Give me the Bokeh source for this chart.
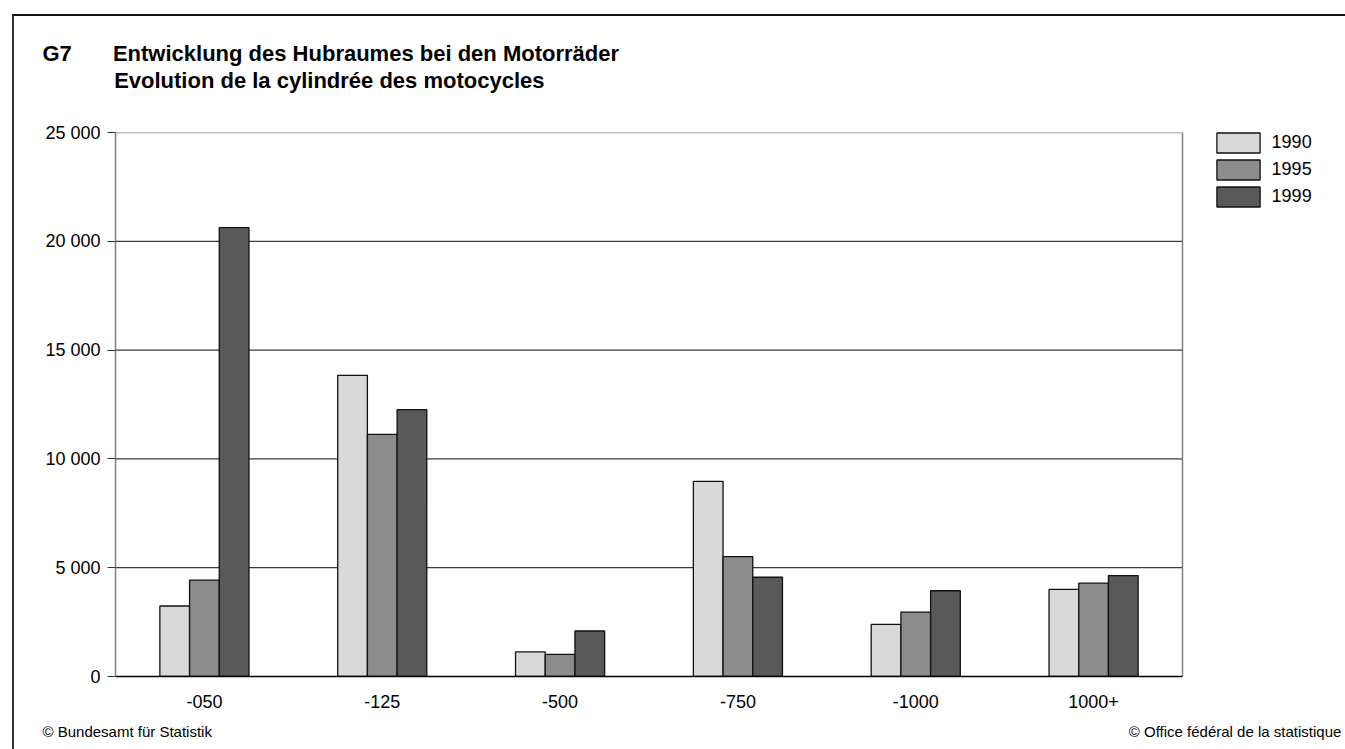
from bokeh.plotting import figure
from bokeh.models import (ColumnDataSource, Range1d, FixedTicker, Legend, LegendItem,
                          Title, Column)
from bokeh.embed import file_html
from bokeh.resources import INLINE

# ---- data ----
categories = ["-050", "-125", "-500", "-750", "-1000", "1000+"]
years = ["1990", "1995", "1999"]
v1990 = [3240, 13840, 1130, 8970, 2400, 4000]
v1995 = [4430, 11130, 1020, 5510, 2960, 4290]
v1999 = [20630, 12260, 2090, 4560, 3940, 4640]
y_ticks = [0, 5000, 10000, 15000, 20000, 25000]
colors = ["#d9d9d9", "#8c8c8c", "#595959"]

title_code = "G7"
title_de = "Entwicklung des Hubraumes bei den Motorräder"
title_fr = "Evolution de la cylindrée des motocycles"
footer_left = "© Bundesamt für Statistik"
footer_right = "© Office fédéral de la statistique"

FONT = "Liberation Sans"
NB = "\u00a0"
THIN = "\u2009"

# ---- geometry (pixels) ----
W, H = 1331, 733
FRAME_L = 101          # left edge of plotting area
PLOT_R = 1168          # right edge of the bar area
BORDER_R = 2           # the frame also holds the legend on the right
n = len(categories)
x_end = n * (W - BORDER_R - FRAME_L) / (PLOT_R - FRAME_L)

idx = list(range(n))
bw = 0.167
data = {"v" + y: v for y, v in zip(years, [v1990, v1995, v1999])}
for j, y in enumerate(years):
    data["x" + y] = [i + 0.5 + (j - 1) * bw for i in idx]
src = ColumnDataSource(data)

p = figure(width=W, height=H, x_range=Range1d(0, x_end), y_range=Range1d(0, y_ticks[-1]),
           output_backend="svg", toolbar_location=None,
           min_border_left=FRAME_L, min_border_right=BORDER_R, min_border_top=116,
           min_border_bottom=71)
p.background_fill_color = "white"
p.border_fill_color = "white"
p.outline_line_color = None
p.xgrid.visible = False
p.ygrid.visible = False

# grid lines and box of the bar area
grid_vals = y_ticks[1:-1]
p.segment(x0=[0] * len(grid_vals), x1=[n] * len(grid_vals), y0=grid_vals, y1=grid_vals,
          line_color="#3a3a3a", line_width=1.2)
p.segment(x0=[0, n], x1=[n, n], y0=[y_ticks[-1], 0], y1=[y_ticks[-1], y_ticks[-1]],
          line_color="#808080", line_width=1.5)

renderers = []
for yr, col in zip(years, colors):
    r = p.vbar(x="x" + yr, top="v" + yr, width=bw, source=src, fill_color=col,
               line_color="#111111", line_width=1.3)
    renderers.append(r)

# axes
p.yaxis.ticker = FixedTicker(ticks=y_ticks)
p.yaxis.major_label_overrides = {t: f"{t:,}".replace(",", " ") for t in y_ticks}
p.yaxis.axis_line_color = "#808080"
p.yaxis.axis_line_width = 1.5
p.yaxis.major_tick_line_color = "#333333"
p.yaxis.major_tick_out = 8
p.yaxis.major_tick_in = 0
p.yaxis.minor_tick_line_color = None
p.yaxis.major_label_standoff = 7
p.yaxis.major_label_text_font = FONT
p.yaxis.major_label_text_font_size = "18px"
p.yaxis.major_label_text_color = "black"

cat_pos = [i + 0.5 for i in idx]
p.xaxis.ticker = FixedTicker(ticks=cat_pos)
p.xaxis.major_label_overrides = {x: c for x, c in zip(cat_pos, categories)}
p.xaxis.bounds = (0, n)
p.xaxis.axis_line_color = "black"
p.xaxis.axis_line_width = 1.5
p.xaxis.major_tick_line_color = None
p.xaxis.minor_tick_line_color = None
p.xaxis.major_label_standoff = 12
p.xaxis.major_label_text_font = FONT
p.xaxis.major_label_text_font_size = "18px"
p.xaxis.major_label_text_color = "black"

# legend (inside the frame, to the right of the bar area)
legend = Legend(items=[LegendItem(label=y, renderers=[r]) for y, r in zip(years, renderers)],
                location=(PLOT_R - FRAME_L + 28.6, 467), orientation="vertical",
                glyph_width=54, glyph_height=25, label_height=20, spacing=2, padding=0,
                margin=0, label_standoff=7, label_text_font=FONT,
                label_text_font_size="18px", label_text_color="black",
                border_line_alpha=0, background_fill_alpha=0)
p.add_layout(legend)

# titles (above panel): spacer first (closest to the frame), then the two-line title
p.add_layout(Title(text=NB, text_font_size="10px", standoff=27), "above")
head = (title_code + NB * 6 + THIN + title_de + "\n" + NB * 11 + THIN + title_fr)
p.add_layout(Title(text=head, align="left", offset=-73, standoff=0, text_font=FONT,
                   text_font_size="22px", text_font_style="bold", text_color="black",
                   text_line_height=1.05), "above")

# footer (below panel)
foot = footer_left + NB * 220 + footer_right
p.add_layout(Title(text=foot, align="left", offset=-73, standoff=20, text_font=FONT,
                   text_font_size="15px", text_font_style="normal", text_color="black"),
             "below")

page = Column(children=[p], styles={"margin-left": "12px", "margin-top": "14px",
                                    "box-sizing": "border-box",
                                    "width": "1333px", "height": "735px",
                                    "overflow": "hidden",
                                    "border-top": "2px solid #111111",
                                    "border-left": "2px solid #333333"})

open("out.html", "w").write(file_html(page, INLINE))
